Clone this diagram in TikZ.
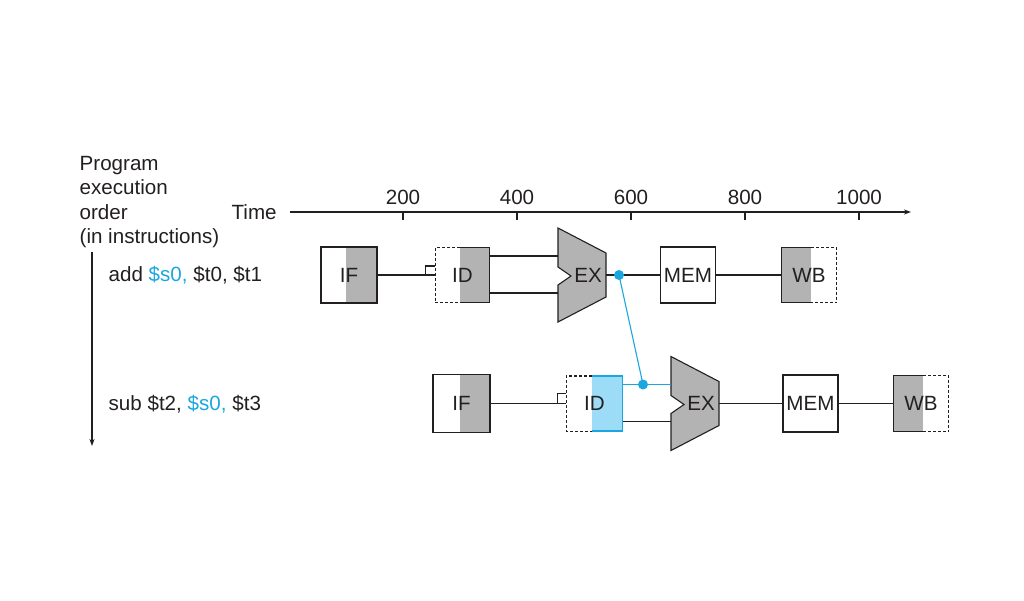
\documentclass[tikz,border=0pt]{standalone}
\usepackage{fontspec}
\setmainfont{Liberation Sans}
\usetikzlibrary{calc,arrows.meta}
\definecolor{ink}{HTML}{231F20}
\definecolor{gry}{HTML}{B3B3B3}
\definecolor{cyn}{HTML}{1AA7E0}
\definecolor{lcyn}{HTML}{9DDCF7}
\tikzset{
  every node/.style={font=\fontsize{20.6}{24}\selectfont, text=ink, inner sep=0pt},
  stg/.style={minimum width=#1},
  hgt/.style={minimum height=#1},
  fillR/.style 2 args={path picture={\fill[#2] ([xshift=#1]path picture bounding box.north) rectangle (path picture bounding box.south east);}},
  fillL/.style={path picture={\fill[gry] (path picture bounding box.north west) rectangle ([xshift=#1]path picture bounding box.south);}},
  dsh/.style={dashed, dash pattern=on 3pt off 2pt, line width=1.3pt},
  wire/.style={line width=1.3pt, draw=ink},
  bx/.style={line width=1.5pt},
  alu/.pic={
    \draw[fill=gry, line width=1.1pt, draw=ink] (-30,-47) -- (18,-22) -- (18,22) -- (-30,47) -- (-30,10) -- (-17,1) -- (-30,-8) -- cycle;
    \node (-c) at (0,0) {EX};
    \coordinate (-i1) at (-30,-19);
    \coordinate (-i2) at (-30,18);
    \coordinate (-o) at (18,0);
  }
}
\begin{document}
\begin{tikzpicture}[x=1pt,y=-1pt,line width=1.3pt]
\useasboundingbox (0,0) rectangle (1024,600);

% left labels
\node[anchor=base west] (l1) at (79,170) {Program};
\node[anchor=base west] (l2) at (79,194.5) {execution};
\node[anchor=base west] (l3) at (79,219) {order};
\node[anchor=base west] (l4) at (79,243.5) {(in instructions)};
\node[anchor=base west] (time) at (231,219) {Time};

% time axis
\coordinate (ax0) at (290,212);
\coordinate (ax1) at (911,212);
\draw[line width=1.2pt, ink, -{Stealth[length=7pt,width=5pt]}] (ax0) -- (ax1);
\foreach \x/\t in {403/200,517/400,631/600,745/800,859/1000}{
  \draw[line width=1.2pt, ink] (\x,212) -- (\x,220);
  \node[anchor=base] at (\x,204) {\t};
}

% order arrow
\coordinate (v0) at (92,252);
\coordinate (v1) at (92,446);
\draw[line width=1.2pt, ink, -{Stealth[length=7pt,width=5pt]}] (v0) -- (v1);

% instruction labels
\node[anchor=base west] (i1) at (108,281) {add {\color{cyn}\$s0,} \$t0, \$t1};
\node[anchor=base west] (i2) at (108,410) {sub \$t2, {\color{cyn}\$s0,} \$t3};

% ---------- row 1 ----------
\node[draw=ink, bx, stg=56, hgt=56, fillR={-3pt}{gry}] (if1) at (349,275) {IF};
\node[stg=53, hgt=54, fillR={-2.5pt}{gry}] (id1) at (462.5,275) {ID};
\coordinate (id1s) at ([xshift=-2.5pt]id1.north);
\coordinate (id1b) at ([xshift=-2.5pt]id1.south);
\draw[dsh, ink] (id1s) -| (id1.south west) -- (id1b);
\draw[ink, bx] (id1s) -| (id1.south east) -- (id1b);
\pic (ex1) at (588,275) {alu};
\node[draw=ink, bx, stg=55, hgt=56] (mem1) at (688,275) {MEM};
\node[stg=54, hgt=54, fillL={2pt}] (wb1) at (809,275) {WB};
\coordinate (wb1s) at ([xshift=2pt]wb1.north);
\coordinate (wb1b) at ([xshift=2pt]wb1.south);
\draw[ink, bx] (wb1s) -| (wb1.south west) -- (wb1b);
\draw[dsh, ink] (wb1s) -| (wb1.south east) -- (wb1b);

\draw[wire] (if1.east) -- (id1.west);
\draw[wire] ($(id1.west)+(-10,0)$) |- ($(id1.west)+(0,-9)$);
\draw[wire] (id1.east |- ex1-i1) -- (ex1-i1);
\draw[wire] (id1.east |- ex1-i2) -- (ex1-i2);
\draw[wire] (ex1-o) -- (mem1.west);
\draw[wire] (mem1.east) -- (wb1.west);

% ---------- row 2 ----------
\node[draw=ink, bx, stg=57, hgt=58, fillR={-1.5pt}{gry}] (if2) at (461.5,403.5) {IF};
\node[stg=55, hgt=54, fillR={-2.5pt}{lcyn}] (id2) at (594.5,403.5) {ID};
\coordinate (id2s) at ([xshift=-2.5pt]id2.north);
\coordinate (id2b) at ([xshift=-2.5pt]id2.south);
\draw[dsh, ink] (id2s) -| (id2.south west) -- (id2b);
\draw[cyn, bx] (id2s) -| (id2.south east) -- (id2b);
\pic (ex2) at (701,403.5) {alu};
\node[draw=ink, bx, stg=55, hgt=57] (mem2) at (810.5,403.5) {MEM};
\node[stg=54, hgt=55, fillL={2pt}] (wb2) at (921,403.5) {WB};
\coordinate (wb2s) at ([xshift=2pt]wb2.north);
\coordinate (wb2b) at ([xshift=2pt]wb2.south);
\draw[ink, bx] (wb2s) -| (wb2.south west) -- (wb2b);
\draw[dsh, ink] (wb2s) -| (wb2.south east) -- (wb2b);

\draw[wire] (if2.east) -- (id2.west);
\draw[wire] ($(id2.west)+(-9,0)$) |- ($(id2.west)+(0,-10)$);
\draw[line width=1.2pt, cyn] (id2.east |- ex2-i1) -- (ex2-i1);
\draw[wire] (id2.east |- ex2-i2) -- (ex2-i2);
\draw[wire] (ex2-o) -- (mem2.west);
\draw[wire] (mem2.east) -- (wb2.west);

% forwarding
\coordinate (d1) at (619,275);
\coordinate (d2) at (643,384.5);
\draw[line width=1.1pt, cyn] (d1) -- (d2);
\fill[cyn] (d1) circle (5);
\fill[cyn] (d2) circle (5);
\end{tikzpicture}
\end{document}
